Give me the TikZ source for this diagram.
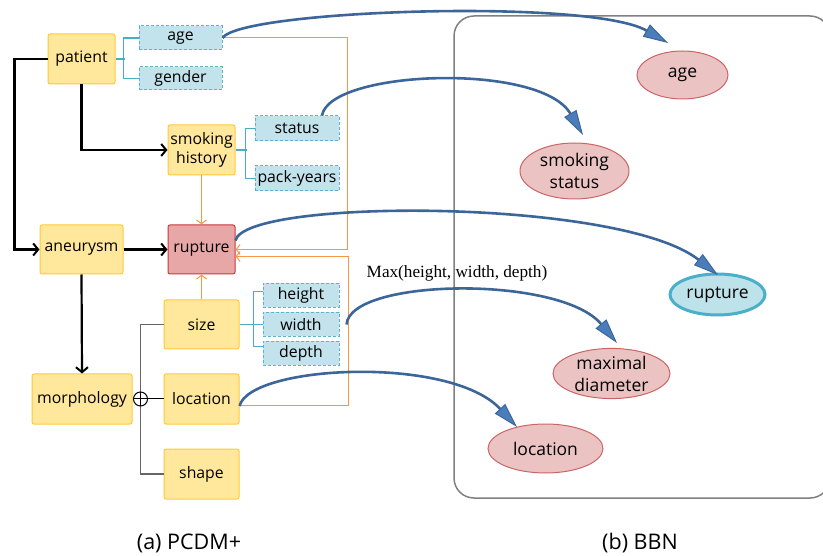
\documentclass[tikz,border=0pt]{standalone}
\usepackage{fontspec}
\setmainfont{Open Sans}
\newfontfamily\serifx{Liberation Serif}
\usetikzlibrary{arrows.meta,shapes.geometric}
\definecolor{yfill}{HTML}{FFE89C}
\definecolor{yedge}{HTML}{FFC936}
\definecolor{rfill}{HTML}{E8A7A7}
\definecolor{redge}{HTML}{C9383C}
\definecolor{bfill}{HTML}{C2E2EC}
\definecolor{bedge}{HTML}{5BB3CE}
\definecolor{pfill}{HTML}{EBC3C3}
\definecolor{pedge}{HTML}{CB6565}
\definecolor{ruptfill}{HTML}{BDE2EA}
\definecolor{ruptedge}{HTML}{4AB0C8}
\definecolor{curvecol}{HTML}{3C6699}
\definecolor{curvefill}{HTML}{4A7EBB}
\definecolor{orng}{HTML}{F79646}
\definecolor{treeblue}{HTML}{4BACC6}
\definecolor{panelgray}{HTML}{808080}
\tikzset{
  ybox/.style={draw=yedge, fill=yfill, line width=1pt, rounded corners=2pt, inner sep=1pt, align=center, font=\fontsize{15.8}{19}\selectfont},
  rbox/.style={ybox, draw=redge, fill=rfill},
  dbox/.style={draw=bedge, fill=bfill, line width=1pt, dashed, dash pattern=on 3pt off 2pt, inner sep=1pt, align=center, font=\fontsize{15.8}{19}\selectfont},
  bbn/.style={ellipse, draw=pedge, fill=pfill, line width=1pt, inner sep=0pt, align=center, font=\fontsize{17.5}{22}\selectfont},
  blk/.style={draw=black, line width=2.2pt, -{Straight Barb[length=5pt,width=12pt,line width=2pt]}},
  orl/.style={draw=orng, line width=1pt},
  ora/.style={orl, -{Straight Barb[length=4pt,width=10pt,line width=1pt]}},
  tbl/.style={draw=treeblue, line width=1.2pt},
  gtree/.style={draw=panelgray!80!black, line width=1.6pt},
  bcurve/.style={draw=curvecol, line width=2.6pt, -{Triangle[length=25pt,width=14pt,line width=1pt,fill=curvefill]}},
}
\begin{document}
\begin{tikzpicture}[x=1pt,y=-1pt]
\useasboundingbox (0,0) rectangle (823,556);
% right panel
\draw[panelgray, line width=1.5pt, rounded corners=20pt] (454,16) rectangle (830,498);
% left boxes
\node[ybox, minimum width=67pt, minimum height=50pt] (patient) at (81.5,59) {patient};
\node[dbox, minimum width=83pt, minimum height=24pt] (age) at (180.5,38) {age};
\node[dbox, minimum width=83pt, minimum height=23pt] (gender) at (180.5,78.5) {gender};
\node[ybox, minimum width=67pt, minimum height=50pt] (smoking) at (201.5,150) {smoking\\history};
\node[dbox, minimum width=84pt, minimum height=25pt] (status) at (297,128.5) {status};
\node[dbox, minimum width=84pt, minimum height=25pt] (pack) at (297,178.5) {pack-years};
\node[ybox, minimum width=83pt, minimum height=49pt] (aneurysm) at (81.5,249.5) {aneurysm};
\node[rbox, minimum width=67pt, minimum height=49pt] (rupture) at (201.5,249.5) {rupture};
\node[ybox, minimum width=75pt, minimum height=49pt] (size) at (201.5,324.5) {size};
\node[dbox, minimum width=76pt, minimum height=24pt] (height) at (301,295.5) {height};
\node[dbox, minimum width=76pt, minimum height=24pt] (width) at (301,324.5) {width};
\node[dbox, minimum width=76pt, minimum height=24pt] (depth) at (301,353.5) {depth};
\node[ybox, minimum width=100pt, minimum height=50pt] (morph) at (82,399) {morphology};
\node[ybox, minimum width=75pt, minimum height=50pt] (location) at (201.5,399) {location};
\node[ybox, minimum width=75pt, minimum height=50pt] (shape) at (201.5,474) {shape};
% BBN ellipses
\node[bbn, minimum width=91pt, minimum height=48pt] (eage) at (682.5,75) {age};
\node[bbn, minimum width=109pt, minimum height=56pt] (esmoke) at (574.5,171) {smoking\\status};
\node[bbn, draw=ruptedge, fill=ruptfill, line width=3pt, minimum width=95pt, minimum height=41pt] (erupt) at (717.5,294.5) {rupture};
\node[bbn, minimum width=117pt, minimum height=49pt] (ediam) at (611.5,373.5) {maximal\\diameter};
\node[bbn, minimum width=115pt, minimum height=49pt] (eloc) at (545.5,448.5) {location};
% captions and label
\node[font=\fontsize{21.5}{24}\selectfont] (capa) at (189,543) {(a) PCDM+};
\node[font=\fontsize{21.5}{24}\selectfont] (capb) at (640,543) {(b) BBN};
\node[font=\serifx\fontsize{17.2}{20}\selectfont] (maxlab) at (457,273) {Max(height, width, depth)};
% black arrows
\draw[blk] (patient.west) -- ++(-33,0) |- (aneurysm.west);
\draw[blk] (patient.south) |- (smoking.west);
\draw[blk] (aneurysm.east) -- (rupture.west);
\draw[blk] (aneurysm.south) -- (morph.north);
% blue trees
\draw[tbl] (patient.east) -- ++(9,0);
\draw[tbl] (age.west) -- ++(-15,0) |- (gender.west);
\draw[tbl] (smoking.east) -- ++(11,0);
\draw[tbl] (status.west) -- ++(-9,0) |- (pack.west);
\draw[tbl] (size.east) -- (width.west);
\draw[tbl] ([yshift=4pt]height.west) -- ++(-9,0) |- ([yshift=7pt]depth.west);
% gray tree
\draw[gtree] (size.west) -- ++(-23,0) |- (shape.west);
\coordinate (oplus) at (140.5,399);
\draw[black, line width=1pt] (oplus) -- (location.west);
\draw[black, line width=1pt] (oplus) circle (7pt);
\draw[black, line width=1pt] ([xshift=-7pt]oplus) -- ([xshift=7pt]oplus);
\draw[black, line width=1pt] ([yshift=-7pt]oplus) -- ([yshift=7pt]oplus);
% orange
\draw[ora] (age.east) -- ++(125,0) |- (rupture.east);
\draw[ora] ([yshift=-7pt]location.east) -- ++(109,0) |- ([yshift=-7pt]rupture.east);
\draw[ora] (smoking.south) -- (rupture.north);
\draw[ora] (size.north) -- (rupture.south);
% blue curves
\coordinate (tipage) at (668,43);
\coordinate (tipsmoke) at (583,135);
\coordinate (tiprupt) at (718,275);
\coordinate (tipdiam) at (617,343);
\coordinate (tiploc) at (517,427);
\draw[bcurve] (age.east) .. controls (240,10) and (590,-2) .. (tipage);
\draw[bcurve] ([xshift=25pt]status.north) .. controls (330,70) and (540,62) .. (tipsmoke);
\draw[bcurve] ([yshift=9pt]rupture.east) .. controls (245,198) and (620,198) .. (tiprupt);
\draw[bcurve] ([xshift=7pt]width.east) .. controls (350,278) and (560,275) .. (tipdiam);
\draw[bcurve] ([yshift=-7pt]location.east) .. controls (250,365) and (450,355) .. (tiploc);
\end{tikzpicture}
\end{document}
